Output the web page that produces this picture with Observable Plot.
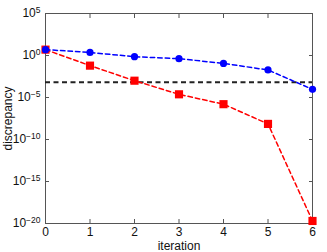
<!DOCTYPE html>
<html>
<head>
<meta charset="utf-8">
<script src="https://cdn.jsdelivr.net/npm/d3@7"></script>
<script src="https://cdn.jsdelivr.net/npm/@observablehq/plot@0.6"></script>
<style>
  html, body { margin: 0; padding: 0; background: #fff; }
  svg { font-family: "Liberation Sans", Arial, sans-serif; }
</style>
</head>
<body>
<div id="chart"></div>
<script>
const iterations = [0, 1, 2, 3, 4, 5, 6];
const blueSeries = [5.0, 2.3, 0.72, 0.42, 0.115, 0.019, 9.3e-5];
const redSeries = [5.0, 0.062, 1.0e-3, 2.4e-5, 1.6e-6, 7.2e-9, 2e-20];
const threshold = [6.5e-4];
const xTicks = [0, 1, 2, 3, 4, 5, 6];
const yTicks = [1e5, 1e0, 1e-5, 1e-10, 1e-15, 1e-20];
const xLabel = "iteration";
const yLabel = "discrepancy";

const blue = iterations.map((x, i) => ({x, y: blueSeries[i]}));
const red = iterations.map((x, i) => ({x, y: redSeries[i]}));

const axisColor = "#555";

const plot = Plot.plot({
  width: 327,
  height: 252,
  marginLeft: 45,
  marginRight: 15,
  marginTop: 13,
  marginBottom: 29,
  style: {fontFamily: "Liberation Sans, Arial, sans-serif", fontSize: "12px", color: "#111", background: "#fff"},
  x: {domain: [0, 6]},
  y: {type: "log", domain: [1e-20, 1e5]},
  marks: [
    Plot.frame({stroke: axisColor, strokeWidth: 1}),
    Plot.axisX(xTicks, {anchor: "bottom", tickSize: -4, tickPadding: 8, stroke: axisColor, fill: "#111",
      label: xLabel, labelAnchor: "center", labelArrow: "none", labelOffset: 26, fontSize: 12}),
    Plot.axisX(xTicks, {anchor: "top", tickSize: -4, stroke: axisColor, text: null, label: null}),
    Plot.axisY(yTicks, {anchor: "left", tickSize: -4, tickPadding: 9, stroke: axisColor, fill: "#111",
      tickFormat: d => "10^" + Math.round(Math.log10(d)),
      label: yLabel, labelAnchor: "center", labelArrow: "none", labelOffset: 42, fontSize: 12}),
    Plot.axisY(yTicks, {anchor: "right", tickSize: -4, stroke: axisColor, text: null, label: null}),
    Plot.ruleY(threshold, {stroke: "#222", strokeWidth: 2, strokeDasharray: "5,3.5"}),
    Plot.line(red, {x: "x", y: "y", stroke: "#ff0000", strokeWidth: 1.5, strokeDasharray: "4.5,3"}),
    Plot.dot(red, {x: "x", y: "y", symbol: "square", r: 4.6, fill: "#ff0000", stroke: "none"}),
    Plot.line(blue, {x: "x", y: "y", stroke: "#0000ff", strokeWidth: 1.5, strokeDasharray: "4.5,3"}),
    Plot.dot(blue, {x: "x", y: "y", r: 3.6, fill: "#0000ff", stroke: "none"})
  ]
});

document.getElementById("chart").appendChild(plot);

// render y tick labels as 10 with superscript exponent
d3.select(plot).selectAll('g[aria-label="y-axis tick label"] text').each(function() {
  const t = d3.select(this);
  const s = t.text();
  if (!s.startsWith("10^")) return;
  let e = s.slice(3).replace("-", "\u2212");
  t.text("10");
  t.append("tspan").attr("dy", "-0.55em").attr("font-size", "8.5px").text(e);
});
</script>
</body>
</html>
